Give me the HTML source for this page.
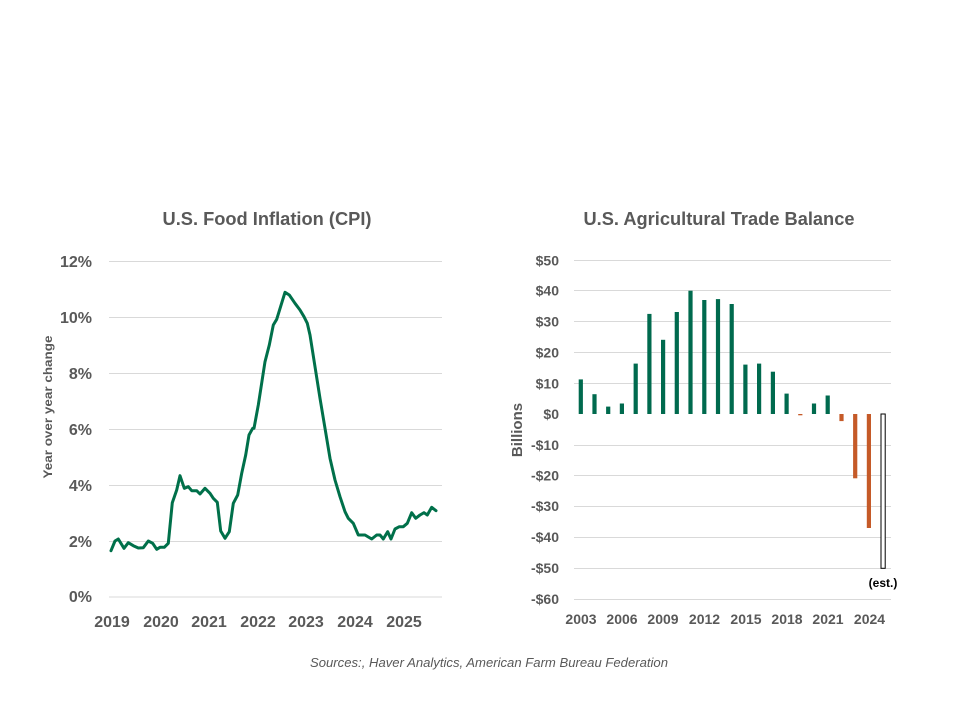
<!DOCTYPE html>
<html>
<head>
<meta charset="utf-8">
<style>
  html,body{margin:0;padding:0;background:#fff;}
  svg{display:block;}
  text{font-family:"Liberation Sans", Arial, sans-serif;}
</style>
</head>
<body>
<svg width="960" height="720" viewBox="0 0 960 720" xmlns="http://www.w3.org/2000/svg">
  <rect width="960" height="720" fill="#fff"/>

  <!-- ===== LEFT CHART ===== -->
  <text x="267" y="225" text-anchor="middle" font-size="18" font-weight="bold" fill="#595959" textLength="209" lengthAdjust="spacingAndGlyphs">U.S. Food Inflation (CPI)</text>

  <g stroke="#d9d9d9" stroke-width="1">
    <line x1="109" y1="261.5" x2="442" y2="261.5"/>
    <line x1="109" y1="317.5" x2="442" y2="317.5"/>
    <line x1="109" y1="373.5" x2="442" y2="373.5"/>
    <line x1="109" y1="429.5" x2="442" y2="429.5"/>
    <line x1="109" y1="485.5" x2="442" y2="485.5"/>
    <line x1="109" y1="541.5" x2="442" y2="541.5"/>
    <line x1="109" y1="597" x2="442" y2="597"/>
  </g>

  <g font-size="16" font-weight="bold" fill="#595959" text-anchor="end">
    <text x="92" y="267">12%</text>
    <text x="92" y="323">10%</text>
    <text x="92" y="379">8%</text>
    <text x="92" y="435">6%</text>
    <text x="92" y="491">4%</text>
    <text x="92" y="547">2%</text>
    <text x="92" y="602">0%</text>
  </g>

  <g font-size="16" font-weight="bold" fill="#595959" text-anchor="middle">
    <text x="112" y="627">2019</text>
    <text x="161" y="627">2020</text>
    <text x="209" y="627">2021</text>
    <text x="258" y="627">2022</text>
    <text x="306" y="627">2023</text>
    <text x="355" y="627">2024</text>
    <text x="404" y="627">2025</text>
  </g>

  <text transform="translate(52,407) rotate(-90)" text-anchor="middle" font-size="12" font-weight="bold" fill="#595959" textLength="143" lengthAdjust="spacingAndGlyphs">Year over year change</text>

  <polyline fill="none" stroke="#00704a" stroke-width="3" stroke-linejoin="round" stroke-linecap="round"
    points="111,550.7 115,541 118.3,539 124,548.3 128.3,542.7 133.3,545.7 138.3,548 143.3,547.7 148.3,541 152.7,543.3 156.7,549.3 160,547.3 164.3,547.3 168.3,543.3 172.3,502.7 176.7,490 180,475.7 184.3,488.3 188.3,486.7 191.7,490.7 196.7,490.7 200,494 205,488.3 210,493.3 213.3,498.3 217.3,502.3 220.7,531 225,538.3 229.3,531.7 233.3,503.3 237.7,495 241.7,473.3 245.7,455 249,435 252.7,428.3 254,428.3 258.3,405 265,361.7 269.3,345 273.3,325 276.7,319.3 285,292.3 289.3,295 295,303.3 300,310 304,316.7 307.3,323.3 310,335 315,366.7 320,398.3 325,428.3 330,458.3 335,480 340,496.7 345,511.7 348.3,518.3 353.3,523.3 358.3,535 365,535 371.7,539 376.7,535 380,535 383.3,539 387.7,531.7 391,539 395,529 399.3,526.7 403.3,526.7 407.3,523.3 411.7,512.7 415.7,518.3 420,515 424,512.7 427.3,515 431.7,507.3 436,510.7"/>

  <!-- ===== RIGHT CHART ===== -->
  <text x="719" y="225" text-anchor="middle" font-size="18" font-weight="bold" fill="#595959" textLength="271" lengthAdjust="spacingAndGlyphs">U.S. Agricultural Trade Balance</text>

  <g stroke="#d9d9d9" stroke-width="1">
    <line x1="574" y1="260.5" x2="891" y2="260.5"/>
    <line x1="574" y1="290.5" x2="891" y2="290.5"/>
    <line x1="574" y1="321.5" x2="891" y2="321.5"/>
    <line x1="574" y1="352.5" x2="891" y2="352.5"/>
    <line x1="574" y1="383.5" x2="891" y2="383.5"/>
    <line x1="574" y1="445.5" x2="891" y2="445.5"/>
    <line x1="574" y1="475.5" x2="891" y2="475.5"/>
    <line x1="574" y1="506.5" x2="891" y2="506.5"/>
    <line x1="574" y1="537.5" x2="891" y2="537.5"/>
    <line x1="574" y1="568.5" x2="891" y2="568.5"/>
    <line x1="574" y1="599.5" x2="891" y2="599.5"/>
  </g>

  <g font-size="14" font-weight="bold" fill="#595959" text-anchor="end">
    <text x="559" y="265.5">$50</text>
    <text x="559" y="295.5">$40</text>
    <text x="559" y="326.5">$30</text>
    <text x="559" y="357.5">$20</text>
    <text x="559" y="388.5">$10</text>
    <text x="559" y="419">$0</text>
    <text x="559" y="450">-$10</text>
    <text x="559" y="480.5">-$20</text>
    <text x="559" y="511">-$30</text>
    <text x="559" y="542">-$40</text>
    <text x="559" y="573">-$50</text>
    <text x="559" y="604">-$60</text>
  </g>

  <text transform="translate(522,430) rotate(-90)" text-anchor="middle" font-size="15" font-weight="bold" fill="#595959">Billions</text>

  <g font-size="14" font-weight="bold" fill="#595959" text-anchor="middle">
    <text x="581" y="624">2003</text>
    <text x="622" y="624">2006</text>
    <text x="663" y="624">2009</text>
    <text x="704.5" y="624">2012</text>
    <text x="746" y="624">2015</text>
    <text x="787" y="624">2018</text>
    <text x="828" y="624">2021</text>
    <text x="869.5" y="624">2024</text>
  </g>

  <!-- bars: center = 580.8 + i*13.72, width 4.2; scale 3.09 px per $1B, zero at 414 -->
  <g fill="#006a4e">
    <rect x="578.7" y="379.4" width="4.2" height="34.6"/>
    <rect x="592.4" y="394.2" width="4.2" height="19.8"/>
    <rect x="606.1" y="406.6" width="4.2" height="7.4"/>
    <rect x="619.8" y="403.5" width="4.2" height="10.5"/>
    <rect x="633.6" y="363.6" width="4.2" height="50.4"/>
    <rect x="647.3" y="313.9" width="4.2" height="100.1"/>
    <rect x="661.0" y="339.8" width="4.2" height="74.2"/>
    <rect x="674.7" y="312.0" width="4.2" height="102.0"/>
    <rect x="688.4" y="290.7" width="4.2" height="123.3"/>
    <rect x="702.2" y="300.0" width="4.2" height="114.0"/>
    <rect x="715.9" y="299.1" width="4.2" height="114.9"/>
    <rect x="729.6" y="304.0" width="4.2" height="110.0"/>
    <rect x="743.3" y="364.6" width="4.2" height="49.4"/>
    <rect x="757.0" y="363.6" width="4.2" height="50.4"/>
    <rect x="770.8" y="371.7" width="4.2" height="42.3"/>
    <rect x="784.5" y="393.6" width="4.2" height="20.4"/>
    <rect x="811.9" y="403.5" width="4.2" height="10.5"/>
    <rect x="825.6" y="395.5" width="4.2" height="18.5"/>
  </g>
  <g fill="#c55a28">
    <rect x="798.2" y="414" width="4.2" height="1.3"/>
    <rect x="839.4" y="414" width="4.2" height="7.1"/>
    <rect x="853.1" y="414" width="4.2" height="64.3"/>
    <rect x="866.8" y="414" width="4.2" height="114.0"/>
  </g>
  <rect x="881" y="414" width="4.2" height="154.3" fill="#fff" stroke="#000" stroke-width="1"/>

  <text x="883" y="587" text-anchor="middle" font-size="12" font-weight="bold" fill="#000">(est.)</text>

  <!-- ===== SOURCE ===== -->
  <text x="310" y="667" font-size="13" font-style="italic" fill="#595959" textLength="358" lengthAdjust="spacingAndGlyphs">Sources:, Haver Analytics, American Farm Bureau Federation</text>
</svg>
</body>
</html>
